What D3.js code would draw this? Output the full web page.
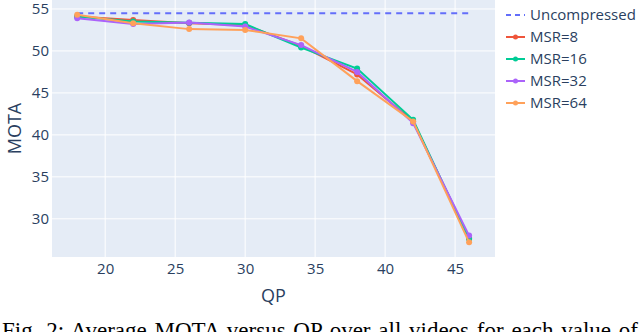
<!DOCTYPE html>
<html>
<head>
<meta charset="utf-8">
<script src="https://cdn.jsdelivr.net/npm/d3@7"></script>
<style>
  body { margin: 0; background: #fff; }
  svg { display: block; }
</style>
</head>
<body>
<div id="chart"></div>
<script>

// QP values on the x axis
var qp = [18, 22, 26, 30, 34, 38, 42, 46];

// MOTA per MSR setting
var msr8  = [54.1, 53.7, 53.3, 53.1, 50.6, 47.2, 41.6, 27.7];
var msr16 = [54.1, 53.5, 53.35, 53.2, 50.4, 47.9, 41.8, 27.6];
var msr32 = [53.9, 53.2, 53.4, 52.9, 50.7, 47.5, 41.4, 28.0];
var msr64 = [54.3, 53.3, 52.6, 52.5, 51.5, 46.4, 41.6, 27.2];
var uncompressed = 54.5;

var seriesNames = ["MSR=8", "MSR=16", "MSR=32", "MSR=64"];
var xTicks = [20, 25, 30, 35, 40, 45];
var yTicks = [30, 35, 40, 45, 50, 55];

var colors = ["#EF553B", "#00CC96", "#AB63FA", "#FFA15A"];

//====================================================================================

var width = 640, height = 332;
var margin = {top: 0, right: 145, bottom: 75, left: 52};
var plotW = width - margin.left - margin.right,
    plotH = height - margin.top - margin.bottom;

var svg = d3.select("#chart").append("svg")
    .attr("width", width)
    .attr("height", height)
    .style("font-family", "'Open Sans', sans-serif");

var g = svg.append("g")
    .attr("transform", "translate(" + margin.left + "," + margin.top + ")");

var x = d3.scaleLinear().domain([16.2, 47.85]).range([0, plotW]);
var y = d3.scaleLinear().domain([25.45, 56.07]).range([plotH, 0]);

// background
g.append("rect")
    .attr("width", plotW)
    .attr("height", plotH)
    .attr("fill", "#E5ECF6");

// grid
g.selectAll("line.vgrid").data(xTicks).enter().append("line")
    .attr("x1", d => x(d)).attr("x2", d => x(d))
    .attr("y1", 0).attr("y2", plotH)
    .attr("stroke", "#fff").attr("stroke-width", 1);

g.selectAll("line.hgrid").data(yTicks).enter().append("line")
    .attr("y1", d => y(d)).attr("y2", d => y(d))
    .attr("x1", 0).attr("x2", plotW)
    .attr("stroke", "#fff").attr("stroke-width", 1);

// axes (labels only)
var xAxis = g.append("g")
    .attr("transform", "translate(0," + plotH + ")")
    .call(d3.axisBottom(x).tickValues(xTicks).tickSize(0).tickPadding(6));
var yAxis = g.append("g")
    .call(d3.axisLeft(y).tickValues(yTicks).tickSize(0).tickPadding(3));

[xAxis, yAxis].forEach(function(a){
    a.select(".domain").remove();
    a.selectAll("text")
        .attr("fill", "#2a3f5f")
        .style("font-size", "15px")
        .style("font-family", "'Open Sans', sans-serif");
});

// axis titles
svg.append("text")
    .attr("x", margin.left + plotW / 2)
    .attr("y", 302)
    .attr("text-anchor", "middle")
    .attr("fill", "#2a3f5f")
    .style("font-size", "18px")
    .text("QP");

svg.append("text")
    .attr("transform", "translate(21," + (margin.top + plotH / 2) + ") rotate(-90)")
    .attr("text-anchor", "middle")
    .attr("fill", "#2a3f5f")
    .style("font-size", "18px")
    .text("MOTA");

// uncompressed reference
g.append("line")
    .attr("x1", x(qp[0])).attr("x2", x(qp[qp.length - 1]))
    .attr("y1", y(uncompressed)).attr("y2", y(uncompressed))
    .attr("stroke", "#636EFA")
    .attr("stroke-width", 2)
    .attr("stroke-dasharray", "6,5");

var line = d3.line()
    .x(function(d, i){ return x(qp[i]); })
    .y(function(d){ return y(d); });

var allSeries = [msr8, msr16, msr32, msr64];

allSeries.forEach(function(s, k){
    g.append("path")
        .datum(s)
        .attr("d", line)
        .attr("fill", "none")
        .attr("stroke", colors[k])
        .attr("stroke-width", 2);

    g.selectAll("circle.s" + k).data(s).enter().append("circle")
        .attr("cx", function(d, i){ return x(qp[i]); })
        .attr("cy", function(d){ return y(d); })
        .attr("r", 3)
        .attr("fill", colors[k]);
});

// legend
var legend = svg.append("g").attr("transform", "translate(506,15)");

var leg0 = legend.append("g");
leg0.append("line")
    .attr("x1", 0).attr("x2", 19).attr("y1", 0).attr("y2", 0)
    .attr("stroke", "#636EFA").attr("stroke-width", 2)
    .attr("stroke-dasharray", "5,4");
leg0.append("text")
    .attr("x", 24).attr("y", 0).attr("dy", "0.35em")
    .attr("fill", "#2a3f5f")
    .style("font-size", "15px")
    .text("Uncompressed");

seriesNames.forEach(function(name, k){
    var it = legend.append("g").attr("transform", "translate(0," + (22 * (k + 1)) + ")");
    it.append("line")
        .attr("x1", 0).attr("x2", 19).attr("y1", 0).attr("y2", 0)
        .attr("stroke", colors[k]).attr("stroke-width", 2);
    it.append("circle")
        .attr("cx", 9.5).attr("cy", 0).attr("r", 2.5)
        .attr("fill", colors[k]);
    it.append("text")
        .attr("x", 24).attr("y", 0).attr("dy", "0.35em")
        .attr("fill", "#2a3f5f")
        .style("font-size", "15px")
        .text(name);
});

// caption, cut off by the bottom edge
svg.append("text")
    .attr("x", 2)
    .attr("y", 338)
    .attr("fill", "#000")
    .style("font-family", "'Liberation Serif', serif")
    .style("font-size", "23px")
    .style("word-spacing", "2px")
    .text("Fig. 2: Average MOTA versus QP over all videos for each value of");

</script>
</body>
</html>
